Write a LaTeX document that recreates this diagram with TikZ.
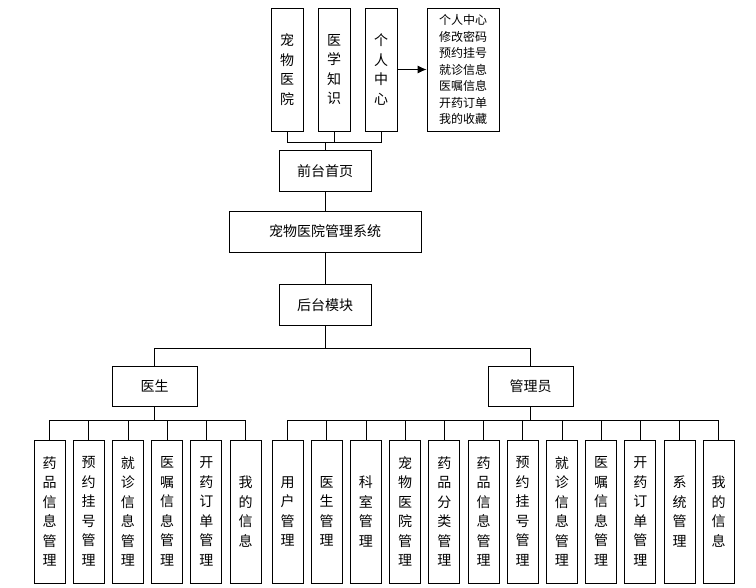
\documentclass[tikz,border=0pt]{standalone}
\usepackage{fontspec}
\setmainfont{Noto Sans CJK SC}
\usetikzlibrary{arrows.meta}
\begin{document}
\begin{tikzpicture}[x=1pt,y=-1pt,
  box/.style={draw,thick,fill=white,font=\fontsize{14}{19.5}\selectfont,align=center,inner sep=0pt},
  vbox/.style={box,minimum width=31,minimum height=143},
  tbox/.style={box,minimum width=32,minimum height=123},
  hbox/.style={box,minimum width=92,minimum height=41},
  link/.style={thick}]
\useasboundingbox[fill=white] (0,0) rectangle (756,588);
% front end
\node[tbox] (pet) at (287,69.5) {宠\\物\\医\\院};
\node[tbox] (know) at (334,69.5) {医\\学\\知\\识};
\node[tbox] (user) at (381,69.5) {个\\人\\中\\心};
\node[box,minimum width=72,minimum height=123,font=\fontsize{12}{16.5}\selectfont,align=left] (ulist) at (463,69.5)
  {个人中心\\修改密码\\预约挂号\\就诊信息\\医嘱信息\\开药订单\\我的收藏};
\draw[link,-{Latex[length=9,width=8]}] (user) -- (ulist);
\node[hbox] (front) at (325,171) {前台首页};
\node[box,minimum width=192,minimum height=41] (sys) at (325,231.5) {宠物医院管理系统};
\node[hbox] (back) at (325,305) {后台模块};
\foreach \n in {pet,know,user} \draw[link] (\n.south) -- ++(0,11) -| (front.north);
\draw[link] (front) -- (sys);
\draw[link] (sys) -- (back);
% roles
\node[box,minimum width=85,minimum height=40] (doc) at (154.5,386) {医生};
\node[box,minimum width=85,minimum height=40] (admin) at (530.5,386) {管理员};
\foreach \n in {doc,admin} \draw[link] (back.south) -- ++(0,23) -| (\n.north);
% doctor modules
\foreach \t [count=\i] in {药\\品\\信\\息\\管\\理,预\\约\\挂\\号\\管\\理,就\\诊\\信\\息\\管\\理,
    医\\嘱\\信\\息\\管\\理,开\\药\\订\\单\\管\\理,我\\的\\信\\息}{
  \pgfmathsetmacro\xx{49.5+39.2*(\i-1)}
  \node[vbox] (d\i) at (\xx,511.5) {\t};
  \draw[link] (doc.south) -- ++(0,14) -| (d\i.north);
}
% admin modules
\foreach \t [count=\i] in {用\\户\\管\\理,医\\生\\管\\理,科\\室\\管\\理,宠\\物\\医\\院\\管\\理,
    药\\品\\分\\类\\管\\理,药\\品\\信\\息\\管\\理,预\\约\\挂\\号\\管\\理,就\\诊\\信\\息\\管\\理,
    医\\嘱\\信\\息\\管\\理,开\\药\\订\\单\\管\\理,系\\统\\管\\理,我\\的\\信\\息}{
  \pgfmathsetmacro\xx{287.5+39.2*(\i-1)}
  \node[vbox] (a\i) at (\xx,511.5) {\t};
  \draw[link] (admin.south) -- ++(0,14) -| (a\i.north);
}
\end{tikzpicture}
\end{document}
